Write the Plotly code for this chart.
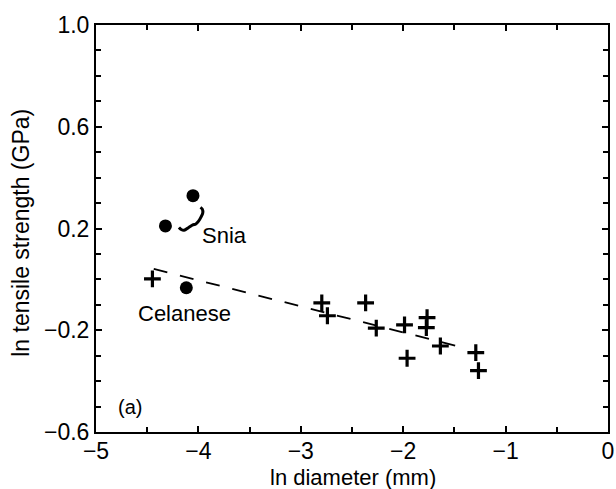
import plotly.graph_objects as go

# Data
snia_x = [-4.053, -4.322]
snia_y = [0.329, 0.210]
celanese_x = [-4.118]
celanese_y = [-0.033]
plus_x = [-4.449, -2.795, -2.740, -2.367, -2.263, -1.987, -1.962, -1.767, -1.774, -1.637, -1.291, -1.265]
plus_y = [0.002, -0.092, -0.143, -0.092, -0.192, -0.179, -0.310, -0.150, -0.190, -0.262, -0.288, -0.359]
fit_x = [-4.436, -1.427]
fit_y = [0.041, -0.267]
brace_x = [-4.190, -4.168, -4.140, -4.095, -4.055, -4.025, -4.000, -3.975, -3.957, -3.962, -3.980]
brace_y = [0.204, 0.196, 0.193, 0.204, 0.214, 0.218, 0.228, 0.245, 0.262, 0.276, 0.283]

x_title = "ln diameter (mm)"
y_title = "ln tensile strength (GPa)"

FONT = "Liberation Sans, Arial, sans-serif"

fig = go.Figure()
fig.add_trace(go.Scatter(x=fit_x, y=fit_y, mode="lines",
                         line=dict(color="black", width=1.8, dash="14px,13px"),
                         hoverinfo="skip"))
fig.add_trace(go.Scatter(x=brace_x, y=brace_y, mode="lines",
                         line=dict(color="black", width=3, shape="spline"),
                         hoverinfo="skip"))
fig.add_trace(go.Scatter(x=snia_x + celanese_x, y=snia_y + celanese_y, mode="markers",
                         marker=dict(symbol="circle", size=13, color="black")))
fig.add_trace(go.Scatter(x=plus_x, y=plus_y, mode="markers",
                         marker=dict(symbol="cross-thin", size=12,
                                     line=dict(color="black", width=3.2))))

fig.add_annotation(x=-3.745, y=0.171, text="Snia", showarrow=False,
                   font=dict(family=FONT, size=22, color="black"))
fig.add_annotation(x=-4.134, y=-0.133, text="Celanese", showarrow=False,
                   font=dict(family=FONT, size=22, color="black"))
fig.add_annotation(x=-4.67, y=-0.50, text="(a)", showarrow=False,
                   font=dict(family=FONT, size=20, color="black"))
# axis titles
fig.add_annotation(xref="paper", yref="paper", x=0.502, y=-0.1106,
                   xanchor="center", yanchor="middle", text=x_title, showarrow=False,
                   font=dict(family=FONT, size=22, color="black"))
fig.add_annotation(xref="paper", yref="paper", x=-0.148, y=0.49,
                   xanchor="center", yanchor="middle", textangle=-90, text=y_title,
                   showarrow=False, font=dict(family=FONT, size=23, color="black"))

fig.update_layout(
    width=616, height=489,
    margin=dict(l=96, r=8, t=25, b=57),
    paper_bgcolor="white", plot_bgcolor="white",
    showlegend=False,
    font=dict(family=FONT, size=23, color="black"),
)
fig.update_xaxes(
    range=[-5, 0], tick0=-5, dtick=1, automargin=False,
    ticks="inside", ticklen=6, tickwidth=1.5, tickcolor="black",
    ticklabelstandoff=-3,
    minor=dict(dtick=0.5, ticks="inside", ticklen=5, tickwidth=1.5, tickcolor="black"),
    showline=True, linecolor="black", linewidth=2, mirror="ticks",
    showgrid=False, zeroline=False,
)
fig.update_yaxes(
    range=[-0.6, 1.0], tick0=-0.6, dtick=0.4, tickformat=".1f", automargin=False,
    ticks="inside", ticklen=6, tickwidth=1.5, tickcolor="black",
    minor=dict(dtick=0.1, ticks="inside", ticklen=5, tickwidth=1.5, tickcolor="black"),
    showline=True, linecolor="black", linewidth=2, mirror="ticks",
    showgrid=False, zeroline=False,
)

fig.write_html("out.html", config={"displayModeBar": False},
               post_script="document.body.style.margin='0';")
